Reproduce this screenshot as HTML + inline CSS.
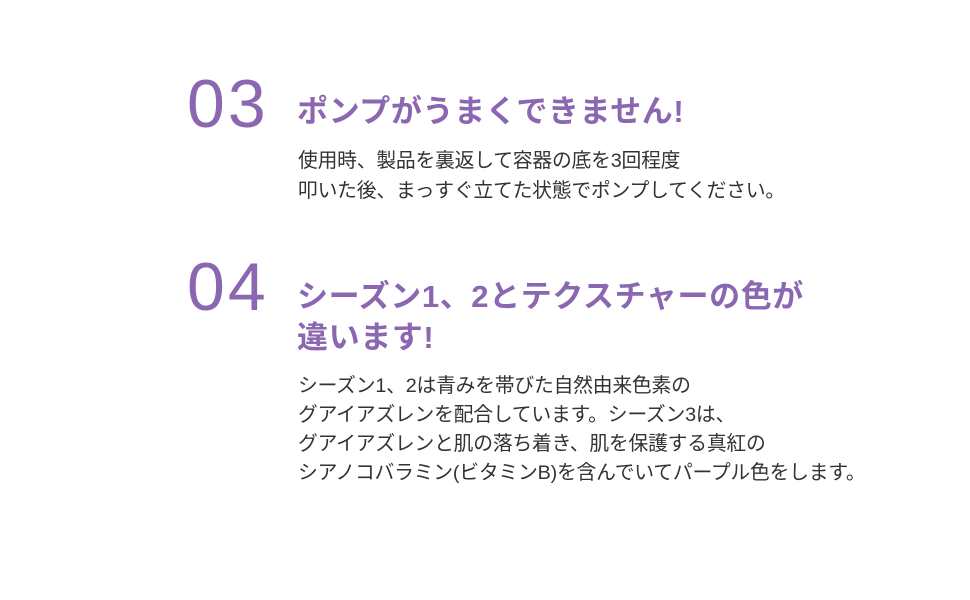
<!DOCTYPE html>
<html><head><meta charset="utf-8"><style>
html,body{margin:0;padding:0;background:#fff;width:970px;height:600px;overflow:hidden}
body{position:relative;font-family:"Liberation Sans","Noto Sans CJK JP",sans-serif}
.num{position:absolute;left:187px;font-size:68px;font-weight:300;color:#8a67b0;letter-spacing:3px;line-height:1}
.h{position:absolute;left:297px;font-size:31px;font-weight:bold;color:#8a67b0;line-height:41px;letter-spacing:0.6px}
.b{position:absolute;left:298px;font-size:19.8px;color:#333;line-height:29.5px;letter-spacing:-0.2px;white-space:nowrap}
</style></head><body>
<div class="num" style="top:70px">03</div>
<div class="h" style="top:91px">ポンプがうまくできません!</div>
<div class="b" style="top:147px">使用時、製品を裏返して容器の底を3回程度<br>叩いた後、まっすぐ立てた状態でポンプしてください。</div>
<div class="num" style="top:253px">04</div>
<div class="h" style="top:276px">シーズン1、2とテクスチャーの色が<br>違います!</div>
<div class="b" style="top:372px;line-height:29px">シーズン1、2は青みを帯びた自然由来色素の<br>グアイアズレンを配合しています。シーズン3は、<br>グアイアズレンと肌の落ち着き、肌を保護する真紅の<br>シアノコバラミン(ビタミンB)を含んでいてパープル色をします。</div>
</body></html>
